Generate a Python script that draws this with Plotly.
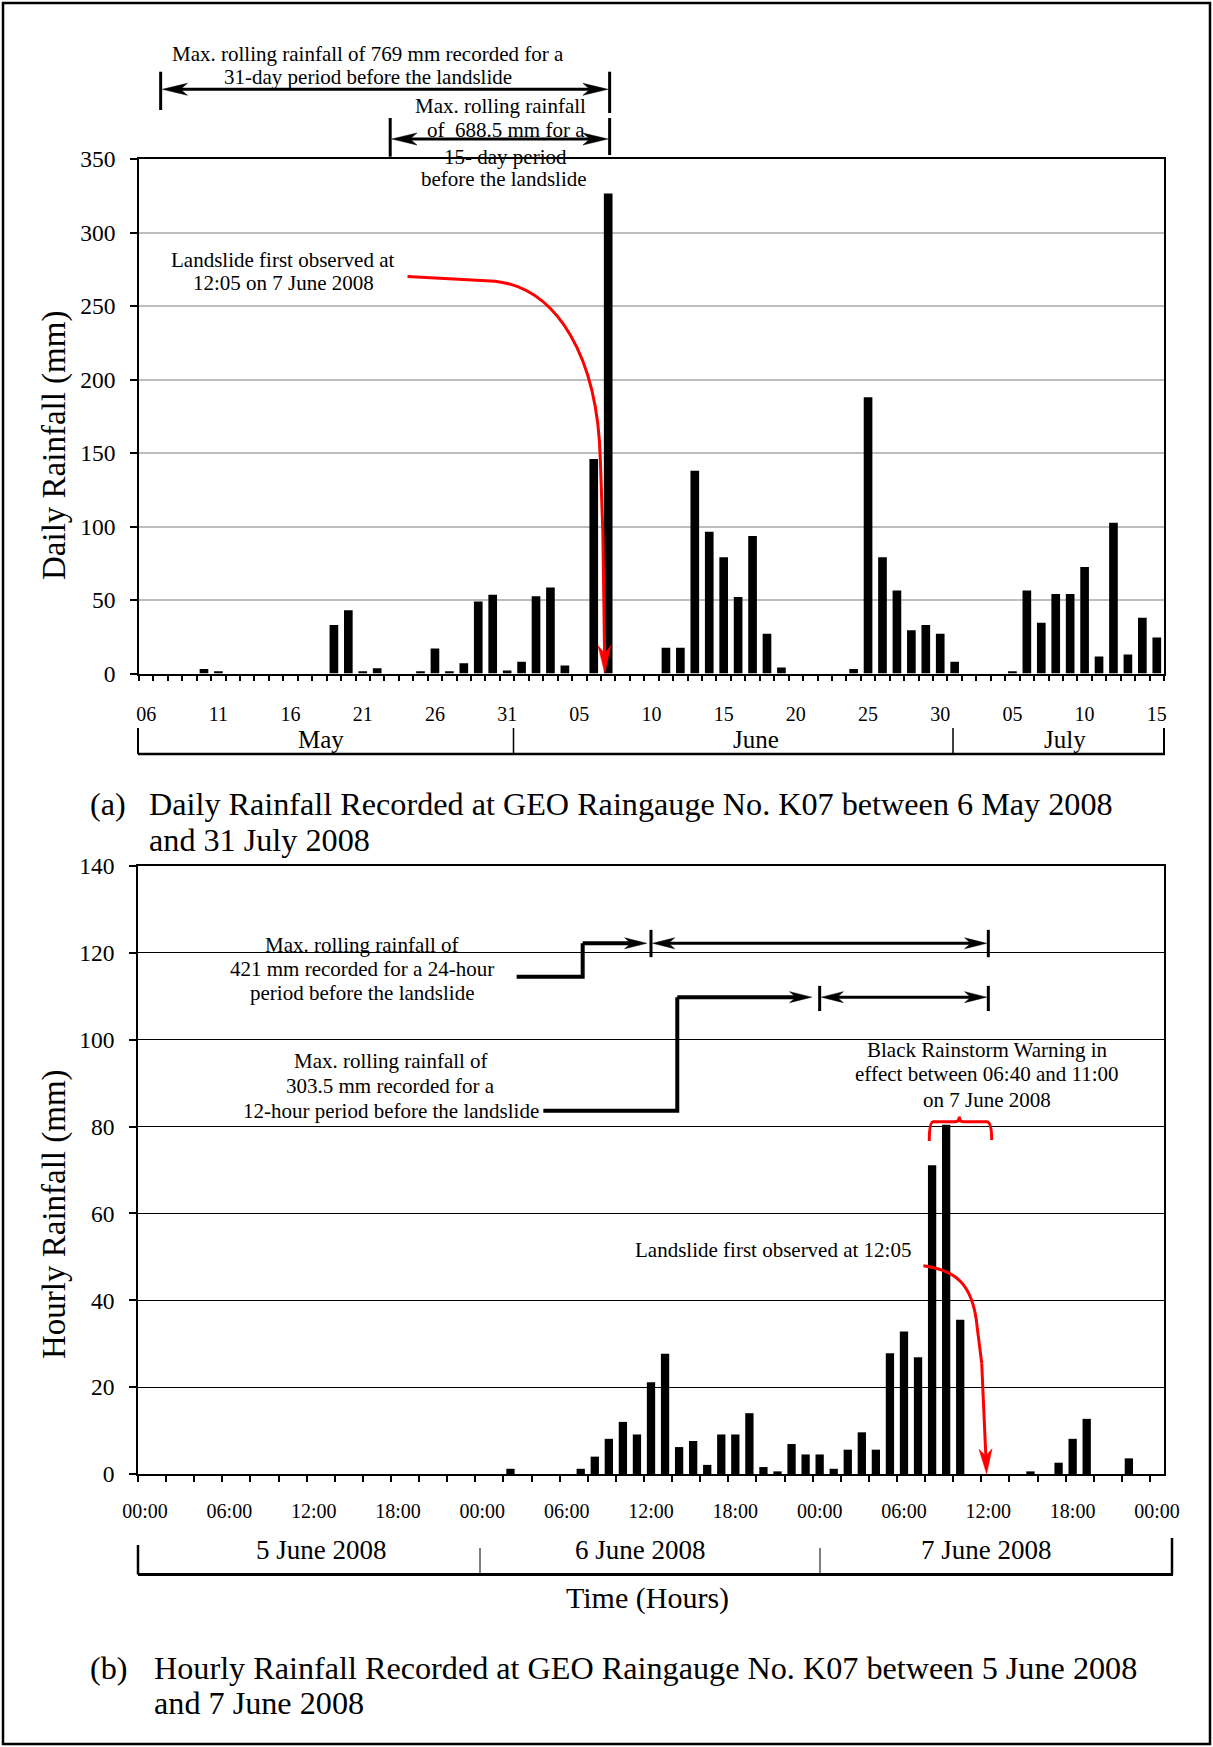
import math
import pandas as pd
import plotly.graph_objects as go

# ---------------- data ----------------
# (a) daily rainfall, 6 May 2008 .. 15 July 2008 (mm)
daily_dates = pd.date_range("2008-05-06", "2008-07-15", freq="D").strftime("%d %b %Y").tolist()
daily_rain = [0, 0, 0, 0, 3, 1.5, 0, 0, 0, 0,
              0, 0, 0, 33, 43, 1.5, 3.5, 0, 0, 1.5,
              17, 1.5, 7, 49, 53.5, 2, 8, 52.5, 58.5, 5.5,
              0, 146, 326.5, 0, 0, 0, 17.5, 17.5, 138, 96.5,
              79, 52, 93.5, 27, 4, 0, 0, 0, 0, 3,
              188, 79, 56.5, 29.5, 33, 27, 8, 0, 0, 0,
              1.5, 56.5, 34.5, 54, 54, 72.5, 11.5, 102.5, 13, 38,
              24.5]
daily_tick_labels = ["06", "11", "16", "21", "26", "31", "05", "10", "15",
                     "20", "25", "30", "05", "10", "15"]
month_labels = ["May", "June", "July"]

# (b) hourly rainfall, 5 June 2008 00:00 .. 8 June 2008 00:00 (mm)
hourly_times = pd.date_range("2008-06-05 00:00", "2008-06-08 00:00", freq="h").strftime("%d %b %H:%M").tolist()
hourly_rain = [0, 0, 0, 0, 0, 0, 0, 0, 0, 0,
               0, 0, 0, 0, 0, 0, 0, 0, 0, 0,
               0, 0, 0, 0, 0, 0, 1.2, 0, 0, 0,
               0, 1.2, 4.0, 8.1, 12.0, 9.1, 21.1, 27.7, 6.2, 7.6,
               2.1, 9.1, 9.1, 14.0, 1.6, 0.6, 6.9, 4.5, 4.5, 1.2,
               5.6, 9.6, 5.6, 27.8, 32.8, 26.9, 71.1, 80.4, 35.5, 0,
               0, 0, 0, 0.6, 0, 2.6, 8.1, 12.7, 0, 0,
               3.6, 0, 0]
hourly_tick_labels = ["00:00", "06:00", "12:00", "18:00"] * 3 + ["00:00"]
day_labels = ["5 June 2008", "6 June 2008", "7 June 2008"]

# ---------------- geometry ----------------
FONT = "Liberation Serif"
W, H = 1213, 1747
TOP = dict(x0=139, x1=1164, y0=159, y1=673.5)
BOT = dict(x0=138, x1=1164, y0=866, y1=1474)
TOP_X = (-0.5, len(daily_rain) - 0.5)
TOP_Y = (0, 350)
BOT_X = (-0.5, len(hourly_rain) - 0.5)
BOT_Y = (0, 140)


def pp_x(px):
    return px / W


def pp_y(py):
    return 1 - py / H


def axis_conv(area, xr, yr):
    sx = (area["x1"] - area["x0"]) / (xr[1] - xr[0])
    sy = (area["y1"] - area["y0"]) / (yr[1] - yr[0])
    return dict(
        x2px=lambda d: area["x0"] + (d - xr[0]) * sx,
        y2px=lambda v: area["y1"] - (v - yr[0]) * sy,
        px2x=lambda p: xr[0] + (p - area["x0"]) / sx,
        px2y=lambda p: yr[0] + (area["y1"] - p) / sy,
    )


T = axis_conv(TOP, TOP_X, TOP_Y)
B = axis_conv(BOT, BOT_X, BOT_Y)

F_TOP = dict(x2px=T["x2px"], y2px=T["y2px"], px2x=T["px2x"], px2y=T["px2y"], xref="x", yref="y")
F_TOP_ABOVE = dict(x2px=T["x2px"], y2px=lambda p: (1 - p) * H, px2x=T["px2x"], px2y=pp_y,
                   xref="x", yref="paper")
F_BOT = dict(x2px=B["x2px"], y2px=B["y2px"], px2x=B["px2x"], px2y=B["px2y"], xref="x2", yref="y2")

shapes = []
annotations = []


def seg(x0, y0, x1, y1, xref, yref, width, color="black"):
    shapes.append(dict(type="line", x0=x0, y0=y0, x1=x1, y1=y1, xref=xref, yref=yref,
                       line=dict(color=color, width=width), layer="above"))


def curve(path, F, width, color):
    shapes.append(dict(type="path", path=path, xref=F["xref"], yref=F["yref"],
                       line=dict(color=color, width=width), layer="above"))


def arrow(F, tail, tip, width, L, Wd, color="black", head_at_tail=False):
    """line from tail to tip with a stealth head at tip (and optionally at tail)."""
    tp = (F["x2px"](tip[0]), F["y2px"](tip[1]))
    tl = (F["x2px"](tail[0]), F["y2px"](tail[1]))
    dx, dy = tp[0] - tl[0], tp[1] - tl[1]
    n = math.hypot(dx, dy)
    ux, uy = dx / n, dy / n
    nx_, ny_ = -uy, ux

    def head(p, sx, sy):
        bx, by = p[0] - sx * L, p[1] - sy * L
        mx, my = p[0] - sx * L * 0.72, p[1] - sy * L * 0.72
        pts = [p, (bx + nx_ * Wd, by + ny_ * Wd), (mx, my), (bx - nx_ * Wd, by - ny_ * Wd)]
        path = "M " + " L ".join(f"{F['px2x'](x):.5f},{F['px2y'](y):.5f}" for x, y in pts) + " Z"
        shapes.append(dict(type="path", path=path, xref=F["xref"], yref=F["yref"],
                           fillcolor=color, line=dict(color=color, width=0.5), layer="above"))
        return (mx, my)

    end = head(tp, ux, uy)
    start = head(tl, -ux, -uy) if head_at_tail else tl
    seg(F["px2x"](start[0]), F["px2y"](start[1]), F["px2x"](end[0]), F["px2y"](end[1]),
        F["xref"], F["yref"], width, color)


def text(x, y, s, size, xref="paper", yref="paper", xanchor="center", angle=0, color="black"):
    annotations.append(dict(x=x, y=y, text=s, xref=xref, yref=yref, showarrow=False,
                            xanchor=xanchor, yanchor="middle", textangle=angle,
                            font=dict(family=FONT, size=size, color=color)))


# ---------------- (a) annotations ----------------
ANN = 21
CAP = 32.2
text(15.36, pp_y(54), "Max. rolling rainfall of 769 mm recorded for a", ANN, xref="x")
text(15.33, pp_y(77), "31-day period before the landslide", ANN, xref="x")
seg(1.0, pp_y(71.7), 1.0, pp_y(110), "x", "paper", 3)
seg(32.1, pp_y(71.7), 32.1, pp_y(113), "x", "paper", 3)
arrow(F_TOP_ABOVE, (1.12, pp_y(89.3)), (31.98, pp_y(89.3)), 3, 25, 6, head_at_tail=True)

text(24.54, pp_y(106), "Max. rolling rainfall", ANN, xref="x")
text(24.92, pp_y(130), "of\u00a0 688.5 mm for a", ANN, xref="x")
text(24.92, pp_y(156.7), "15- day period", ANN, xref="x")
text(24.78, pp_y(179.3), "before the landslide", ANN, xref="x")
seg(16.9, pp_y(118), 16.9, pp_y(156.7), "x", "paper", 3)
seg(32.1, pp_y(118), 32.1, pp_y(155), "x", "paper", 3)
arrow(F_TOP_ABOVE, (17.02, pp_y(139)), (31.98, pp_y(139)), 3, 25, 6, head_at_tail=True)

text(9.49, 281.6, "Landslide first observed at", ANN, xref="x", yref="y")
text(9.49, 265.7, "12:05 on 7 June 2008", ANN, xref="x", yref="y")
curve("M 18.1,270.1 L 24.16,266.9 C 28.5,262 31.3,215 31.46,144.3 L 31.63,95.6", F_TOP, 3, "red")
arrow(F_TOP, (31.63, 95.6), (31.77, 0), 3, 28, 6.5, color="red")

# month bracket under (a)
seg(pp_x(138), pp_y(754), pp_x(1165), pp_y(754), "paper", "paper", 2.5)
for xb in (138, 513.5, 953, 1164):
    seg(pp_x(xb), pp_y(728), pp_x(xb), pp_y(754), "paper", "paper", 2 if xb in (138, 1164) else 1.5)
for xm, lab in zip((321, 756, 1065), month_labels):
    text(pp_x(xm), pp_y(740), lab, 25)

text(pp_x(88), pp_y(804), "(a)", CAP, xanchor="left")
text(pp_x(147), pp_y(804), "Daily Rainfall Recorded at GEO Raingauge No. K07 between 6 May 2008",
     CAP, xanchor="left")
text(pp_x(147), pp_y(840), "and 31 July 2008", CAP, xanchor="left")
text(pp_x(54), pp_y(446), "Daily Rainfall (mm)", 33, angle=-90)

# ---------------- (b) annotations ----------------
for yv, s in zip((121.9, 116.3, 110.7), ("Max. rolling rainfall of", "421 mm recorded for a 24-hour",
                                          "period before the landslide")):
    text(15.44, yv, s, ANN, xref="x2", yref="y2")
for yv, s in zip((95.1, 89.4, 83.7), ("Max. rolling rainfall of", "303.5 mm recorded for a",
                                       "12-hour period before the landslide")):
    text(17.47, yv, s, ANN, xref="x2", yref="y2")

curve("M 26.44,114.5 L 31.14,114.5 L 31.14,122.2", F_BOT, 4, "black")
arrow(F_BOT, (31.14, 122.2), (35.69, 122.2), 4, 22, 5.5)
seg(36, 119.0, 36, 125.3, "x2", "y2", 3)
seg(60, 119.0, 60, 125.3, "x2", "y2", 3)
arrow(F_BOT, (36.12, 122.2), (59.88, 122.2), 3, 22, 5.5, head_at_tail=True)

curve("M 28.34,83.65 L 37.87,83.65 L 37.87,109.8", F_BOT, 4, "black")
arrow(F_BOT, (37.87, 109.8), (47.43, 109.8), 4, 22, 5.5)
seg(48, 106.6, 48, 112.4, "x2", "y2", 3)
seg(60, 106.6, 60, 112.4, "x2", "y2", 3)
arrow(F_BOT, (48.12, 109.8), (59.88, 109.8), 3, 22, 5.5, head_at_tail=True)

for yv, s in zip((97.6, 92.1, 86.1), ("Black Rainstorm Warning in", "effect between 06:40 and 11:00",
                                       "on 7 June 2008")):
    text(59.9, yv, s, ANN, xref="x2", yref="y2")
curve("M 55.80,76.7 Q 55.80,81.1 56.09,81.1 L 57.63,81.1 Q 57.94,81.1 57.94,82.3 "
      "Q 57.94,81.1 58.22,81.1 L 59.88,81.1 Q 60.24,81.1 60.24,76.9", F_BOT, 3, "red")

text(54.64, 51.6, "Landslide first observed at 12:05", ANN, xref="x2", yref="y2", xanchor="right")
curve("M 55.38,47.97 C 57.6,47 58.9,44 59.2,34 L 59.53,25.5", F_BOT, 3, "red")
arrow(F_BOT, (59.53, 25.5), (59.88, 0), 3, 25, 6.5, color="red")

# date bracket under (b)
seg(pp_x(138), pp_y(1574.5), pp_x(1173), pp_y(1574.5), "paper", "paper", 3)
seg(pp_x(138), pp_y(1545), pp_x(138), pp_y(1574.5), "paper", "paper", 2.5)
seg(pp_x(480), pp_y(1548), pp_x(480), pp_y(1574.5), "paper", "paper", 1)
seg(pp_x(820), pp_y(1548), pp_x(820), pp_y(1574.5), "paper", "paper", 1)
seg(pp_x(1172), pp_y(1538), pp_x(1172), pp_y(1574.5), "paper", "paper", 2.5)
for xm, lab in zip((321, 640, 986), day_labels):
    text(pp_x(xm), pp_y(1550), lab, 27)
text(pp_x(647), pp_y(1598), "Time (Hours)", 30)

text(pp_x(88), pp_y(1667.5), "(b)", CAP, xanchor="left")
text(pp_x(152), pp_y(1667.5), "Hourly Rainfall Recorded at GEO Raingauge No. K07 between 5 June 2008",
     CAP, xanchor="left")
text(pp_x(152), pp_y(1703), "and 7 June 2008", CAP, xanchor="left")
text(pp_x(54), pp_y(1214), "Hourly Rainfall (mm)", 33, angle=-90)

# outer frame
shapes.append(dict(type="rect", xref="paper", yref="paper", x0=pp_x(3), x1=pp_x(1210),
                   y0=pp_y(1744), y1=pp_y(3), line=dict(color="black", width=2.5), layer="above"))

# ---------------- traces ----------------
fig = go.Figure()
fig.add_trace(go.Bar(x=list(range(len(daily_rain))), y=daily_rain, customdata=daily_dates,
                     marker=dict(color="black", line=dict(width=0)), width=0.6,
                     xaxis="x", yaxis="y", hovertemplate="%{customdata}: %{y} mm<extra></extra>"))
fig.add_trace(go.Bar(x=list(range(len(hourly_rain))), y=hourly_rain, customdata=hourly_times,
                     marker=dict(color="black", line=dict(width=0)), width=0.59,
                     xaxis="x2", yaxis="y2", hovertemplate="%{customdata}: %{y} mm<extra></extra>"))

tickfont_x = dict(family=FONT, size=20, color="black")
tickfont_y = dict(family=FONT, size=23.5, color="black")

fig.update_layout(
    width=W, height=H, margin=dict(l=0, r=0, t=0, b=0, pad=0),
    paper_bgcolor="white", plot_bgcolor="white", showlegend=False,
    font=dict(family=FONT, color="black"),
    xaxis=dict(domain=[pp_x(TOP["x0"]), pp_x(TOP["x1"])], range=list(TOP_X), anchor="y",
               tickmode="array", tickvals=list(range(0, len(daily_rain), 5)), ticktext=daily_tick_labels,
               ticks="", tickfont=tickfont_x, ticklabelstandoff=22,
               showline=True, linecolor="black", linewidth=1.8, mirror=True,
               showgrid=False, zeroline=False, automargin=False,
               minor=dict(tickmode="linear", tick0=-0.5, dtick=1, ticks="outside", ticklen=6,
                          tickwidth=1.5, tickcolor="black", showgrid=False)),
    yaxis=dict(domain=[pp_y(TOP["y1"]), pp_y(TOP["y0"])], range=list(TOP_Y), anchor="x",
               tickmode="linear", tick0=0, dtick=50, ticks="outside", ticklen=7, tickwidth=1.5,
               tickcolor="black", tickfont=tickfont_y, ticklabelstandoff=10,
               showline=True, linecolor="black", linewidth=1.8, mirror=True,
               showgrid=True, gridcolor="#bdbdbd", gridwidth=2, zeroline=False, automargin=False),
    xaxis2=dict(domain=[pp_x(BOT["x0"]), pp_x(BOT["x1"])], range=list(BOT_X), anchor="y2",
                tickmode="array", tickvals=list(range(0, len(hourly_rain), 6)), ticktext=hourly_tick_labels,
                ticks="", tickfont=tickfont_x, ticklabelstandoff=18,
                showline=True, linecolor="black", linewidth=1.8, mirror=True,
                showgrid=False, zeroline=False, automargin=False,
                minor=dict(tickmode="linear", tick0=-0.5, dtick=2, ticks="outside", ticklen=6,
                           tickwidth=1.5, tickcolor="black", showgrid=False)),
    yaxis2=dict(domain=[pp_y(BOT["y1"]), pp_y(BOT["y0"])], range=list(BOT_Y), anchor="x2",
                tickmode="linear", tick0=0, dtick=20, ticks="outside", ticklen=7, tickwidth=1.5,
                tickcolor="black", tickfont=tickfont_y, ticklabelstandoff=10,
                showline=True, linecolor="black", linewidth=1.8, mirror=True,
                showgrid=True, gridcolor="black", gridwidth=1.3, zeroline=False, automargin=False),
    shapes=shapes, annotations=annotations,
)

fig.write_html("out.html", post_script="document.body.style.margin='0px';")
